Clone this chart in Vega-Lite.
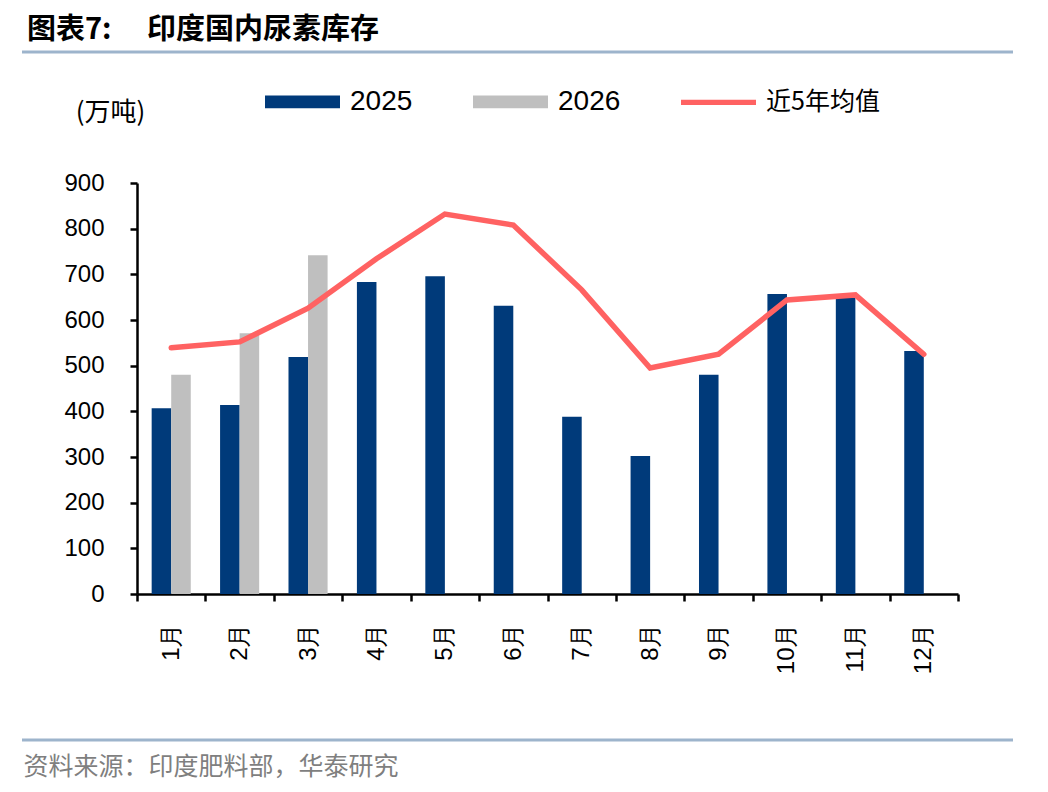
{
  "$schema": "https://vega.github.io/schema/vega-lite/v6.json",
  "width": 821,
  "height": 411,
  "autosize": {"type": "none"},
  "padding": {"left": 137, "top": 183, "right": 90, "bottom": 198},
  "background": "white",
  "title": {
    "text": "图表7:　 印度国内尿素库存",
    "anchor": "start",
    "frame": "group",
    "font": "Noto Sans CJK SC",
    "fontWeight": "bold",
    "fontSize": 29,
    "color": "#000000",
    "dx": -110,
    "dy": 38,
    "offset": 30,
    "baseline": "middle"
  },
  "config": {
    "view": {"stroke": null},
    "font": "Liberation Sans",
    "axis": {"grid": false, "domainColor": "#000000", "domainWidth": 2.5, "tickColor": "#000000", "tickWidth": 2.5, "tickSize": 7, "labelColor": "#000000"}
  },
  "data": {
    "values": [
      {"month": "1月", "series": "2025", "value": 407},
      {"month": "2月", "series": "2025", "value": 414},
      {"month": "3月", "series": "2025", "value": 519},
      {"month": "4月", "series": "2025", "value": 683},
      {"month": "5月", "series": "2025", "value": 696},
      {"month": "6月", "series": "2025", "value": 631},
      {"month": "7月", "series": "2025", "value": 388},
      {"month": "8月", "series": "2025", "value": 302},
      {"month": "9月", "series": "2025", "value": 480},
      {"month": "10月", "series": "2025", "value": 657},
      {"month": "11月", "series": "2025", "value": 650},
      {"month": "12月", "series": "2025", "value": 532},
      {"month": "1月", "series": "2026", "value": 480},
      {"month": "2月", "series": "2026", "value": 571},
      {"month": "3月", "series": "2026", "value": 742},
      {"month": "1月", "series": "近5年均值", "value": 539},
      {"month": "2月", "series": "近5年均值", "value": 552},
      {"month": "3月", "series": "近5年均值", "value": 626},
      {"month": "4月", "series": "近5年均值", "value": 734},
      {"month": "5月", "series": "近5年均值", "value": 832},
      {"month": "6月", "series": "近5年均值", "value": 808},
      {"month": "7月", "series": "近5年均值", "value": 666},
      {"month": "8月", "series": "近5年均值", "value": 495},
      {"month": "9月", "series": "近5年均值", "value": 525},
      {"month": "10月", "series": "近5年均值", "value": 644},
      {"month": "11月", "series": "近5年均值", "value": 655},
      {"month": "12月", "series": "近5年均值", "value": 525}
    ]
  },
  "encoding": {
    "x": {
      "field": "month",
      "type": "nominal",
      "sort": ["1月","2月","3月","4月","5月","6月","7月","8月","9月","10月","11月","12月"],
      "scale": {"paddingInner": 0, "paddingOuter": 0},
      "axis": {
        "title": "资料来源：印度肥料部，华泰研究",
        "titleFont": "Noto Sans CJK SC",
        "titleFontWeight": "normal",
        "titleFontSize": 25,
        "titleColor": "#7F7F7F",
        "titleAlign": "left",
        "titleBaseline": "middle",
        "titleX": -114,
        "titleY": 172,
        "labelAngle": -90,
        "labelFont": "Liberation Sans",
        "labelFontSize": 24,
        "labelPadding": 22,
        "tickBand": "extent",
        "labelBaseline": "middle"
      }
    },
    "y": {
      "field": "value",
      "type": "quantitative",
      "scale": {"domain": [0, 900], "nice": false},
      "axis": {
        "values": [0,100,200,300,400,500,600,700,800,900],
        "title": "(万吨)",
        "titleFont": "Noto Sans CJK SC",
        "titleFontWeight": "normal",
        "titleFontSize": 26,
        "titleAngle": 0,
        "titleAlign": "center",
        "titleBaseline": "middle",
        "titleX": -27,
        "titleY": -71,
        "labelFontSize": 24,
        "labelPadding": 26
      }
    }
  },
  "layer": [
    {
      "transform": [{"filter": "datum.series !== '近5年均值'"}],
      "mark": {"type": "bar"},
      "encoding": {
        "xOffset": {"field": "series", "type": "nominal", "scale": {"domain": ["2025", "2026"], "paddingInner": 0, "paddingOuter": 0.75}},
        "color": {
          "field": "series",
          "type": "nominal",
          "scale": {"domain": ["2025", "2026", "近5年均值"], "range": ["#003A7A", "#BFBFBF", "#FF6262"]},
          "legend": {
            "title": null,
            "orient": "none",
            "direction": "horizontal",
            "legendX": 128,
            "legendY": -119,
            "symbolSize": 5625,
            "labelFontSize": 28,
            "labelFont": "Liberation Sans",
            "labelColor": "#000000",
            "labelOffset": 10,
            "columnPadding": 60,
            "labelLimit": 300,
            "encode": {
              "symbols": {
                "update": {
                  "shape": {"signal": "datum.value === '近5年均值' ? 'M-1,-0.07H1V0.07H-1Z' : 'M-1,-0.17H1V0.17H-1Z'"},
                  "fill": {"signal": "datum.value === '2025' ? '#003A7A' : datum.value === '2026' ? '#BFBFBF' : '#FF6262'"},
                  "strokeWidth": {"value": 0},
                  "opacity": {"value": 1}
                }
              },
              "labels": {
                "update": {
                  "font": {"signal": "datum.value === '近5年均值' ? 'Noto Sans CJK SC' : 'Liberation Sans'"},
                  "fontSize": {"signal": "datum.value === '近5年均值' ? 25 : 28"}
                }
              }
            }
          }
        }
      }
    },
    {
      "transform": [{"filter": "datum.series === '近5年均值'"}],
      "mark": {"type": "line", "strokeWidth": 5.5, "strokeCap": "round", "strokeJoin": "miter"},
      "encoding": {
        "color": {"field": "series", "type": "nominal"}
      }
    },
    {
      "data": {"values": [{"pos": "top"}]},
      "mark": {"type": "rule", "color": "#9DB4CC", "strokeWidth": 3},
      "encoding": {
        "x": {"value": -115},
        "x2": {"value": 876},
        "y": {"value": -131}
      }
    },
    {
      "data": {"values": [{"pos": "bottom"}]},
      "mark": {"type": "rule", "color": "#9DB4CC", "strokeWidth": 3},
      "encoding": {
        "x": {"value": -115},
        "x2": {"value": 876},
        "y": {"value": 557}
      }
    }
  ]
}
